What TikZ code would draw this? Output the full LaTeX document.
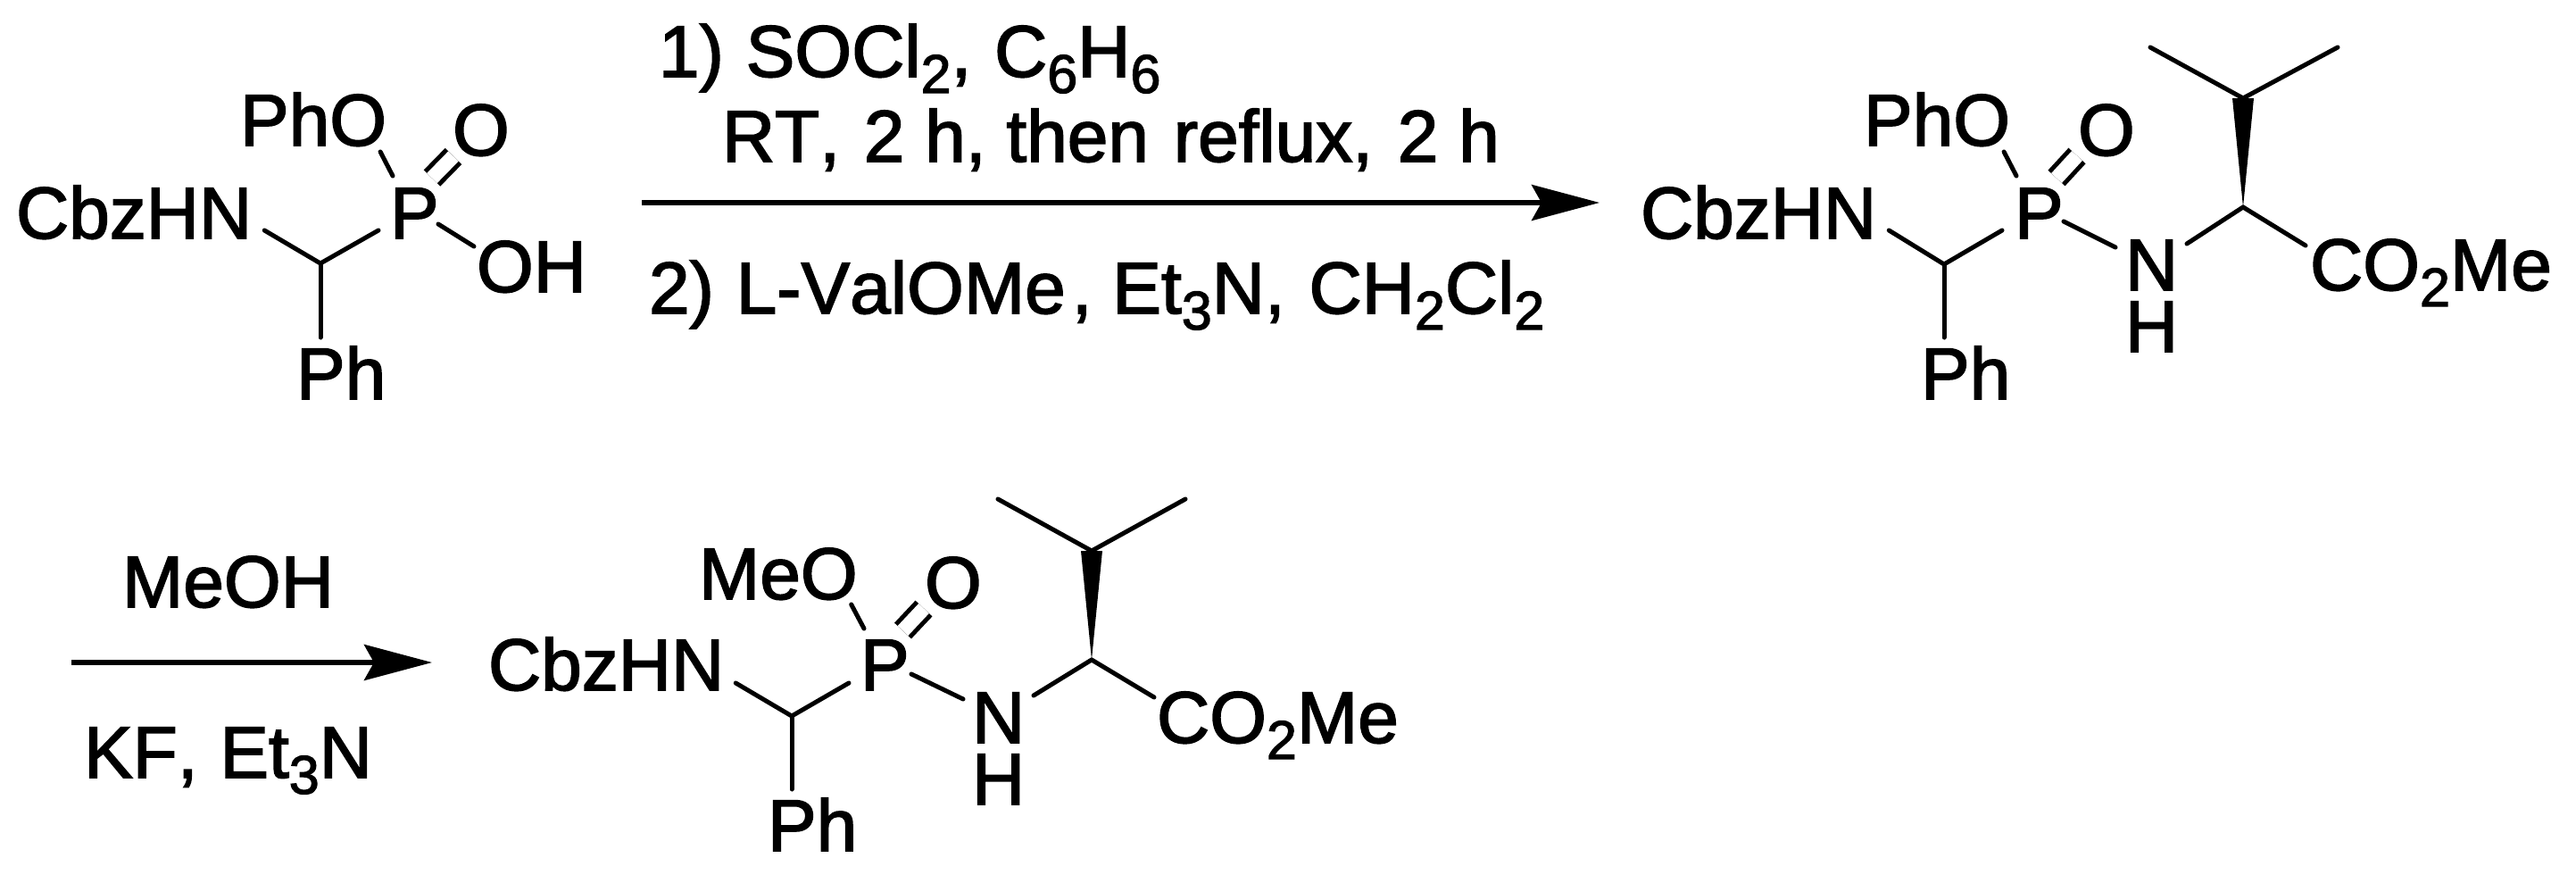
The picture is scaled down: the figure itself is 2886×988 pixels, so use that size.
\documentclass[tikz,border=0pt]{standalone}
\usepackage{fontspec}
\setmainfont[Kerning=Off,FakeBold=2]{Liberation Sans}
\usetikzlibrary{calc,arrows.meta}
\newcommand{\idx}[1]{\raisebox{-18pt}{\fontsize{61}{61}\selectfont #1}}
\begin{document}
\begin{tikzpicture}[x=1pt,y=-1pt,
  atom/.style={anchor=base west, inner sep=0pt, outer sep=0pt, font=\fontsize{82}{90}\selectfont},
  bond/.style={line width=5pt, line cap=round},
  dbond/.style={line width=5pt, double, double distance=16pt},
  react/.style={line width=5.5pt, -{Stealth[length=76pt,width=40pt,inset=11pt]}}]
\useasboundingbox (0,0) rectangle (2886,988);
\node[atom] (cbzA) at (18,267){CbzHN};
\node[atom] (phoA) at (269,163){PhO};
\node[atom] (pA) at (437,267){P};
\node[atom] (oA) at (507,174){O};
\node[atom] (ohA) at (534,327){OH};
\node[atom] (phA) at (332,447){Ph};
\coordinate (cA) at (359,295);
\draw[bond] ($(cbzA.base east)+(14,-9)$) -- (cA);
\draw[bond] ($(pA.base west)+(-13,-9)$) -- (cA);
\draw[bond] ($(phA.base west)+(27,-69)$) -- (cA);
\draw[bond] ($(pA.base west)+(3,-70)$) -- ($(phoA.base east)+(-7,7)$);
\draw[dbond] ($(pA.base west)+(47,-67.5)$) -- ($(oA.base west)+(1,1)$);
\draw[bond] ($(pA.base west)+(54,-16)$) -- ($(ohA.base west)+(-3,-51)$);
\node[atom] (stepa) at (738,86){1)\kern2pt{} SOCl\idx{2},\kern3pt{} C\idx{6}H\idx{6}};
\node[atom] (stepb) at (809,181){RT,\kern4pt{} 2 h, then\kern5pt{} reflux,\kern5pt{} 2 h};
\node[atom] (stepc) at (727,351){2)\kern2pt{} L-ValOMe\kern7pt, Et\idx{3}N,\kern4pt{} CH\idx{2}Cl\idx{2}};
\coordinate (arAs) at (719,227);
\coordinate (arAe) at (1792,227);
\draw[react] (arAs) -- (arAe);
\node[atom] (cbzB) at (1838,267){CbzHN};
\node[atom] (phoB) at (2088,163){PhO};
\node[atom] (pB) at (2257,267){P};
\node[atom] (oB) at (2328,174){O};
\node[atom] (nB) at (2381,325){N};
\node[atom] (hB) at (2381,394){H};
\node[atom] (coB) at (2588,325){CO\idx{2}Me};
\node[atom] (phB) at (2152,447){Ph};
\coordinate (cB) at (2178,296);
\coordinate (dB) at (2513,232);
\coordinate (eB) at (2513,110);
\coordinate (fB) at (2409,53);
\coordinate (gB) at (2619,53);
\draw[bond] ($(cbzB.base east)+(14,-9)$) -- (cB);
\draw[bond] ($(pB.base west)+(-14,-9)$) -- (cB);
\draw[bond] ($(phB.base west)+(26,-69)$) -- (cB);
\draw[bond] ($(pB.base west)+(2,-70)$) -- ($(phoB.base east)+(-7,7)$);
\draw[dbond] ($(pB.base west)+(47,-67.5)$) -- ($(oB.base west)+(-1,.5)$);
\draw[bond] ($(pB.base west)+(55,-19)$) -- ($(nB.base west)+(-11,-48)$);
\draw[bond] ($(nB.base west)+(69,-52)$) -- (dB);
\draw[bond] ($(coB.base west)+(-5,-50)$) -- (dB);
\fill (dB) -- ([xshift=-12pt]eB) -- ([xshift=12pt]eB) -- cycle;
\draw[bond] (eB) -- (fB);
\draw[bond] (eB) -- (gB);
\node[atom] (stepd) at (137,680){MeOH};
\node[atom] (stepe) at (94,871){KF,\kern2pt{} Et\idx{3}N};
\coordinate (arBs) at (80,742);
\coordinate (arBe) at (484,742);
\draw[react] (arBs) -- (arBe);
\node[atom] (cbzC) at (547,773){CbzHN};
\node[atom] (meoC) at (783,671){MeO};
\node[atom] (pC) at (964,773){P};
\node[atom] (oC) at (1036,681){O};
\node[atom] (nC) at (1089,832){N};
\node[atom] (hC) at (1089,901){H};
\node[atom] (coC) at (1296,832){CO\idx{2}Me};
\node[atom] (phC) at (860,953){Ph};
\coordinate (cC) at (887,802);
\coordinate (dC) at (1223,739);
\coordinate (eC) at (1223,617);
\coordinate (fC) at (1118,559);
\coordinate (gC) at (1328,559);
\draw[bond] ($(cbzC.base east)+(13,-8)$) -- (cC);
\draw[bond] ($(pC.base west)+(-13,-8)$) -- (cC);
\draw[bond] ($(phC.base west)+(27,-69)$) -- (cC);
\draw[bond] ($(pC.base west)+(4,-69)$) -- ($(meoC.base east)+(-7,6)$);
\draw[dbond] ($(pC.base west)+(47.5,-66.5)$) -- ($(oC.base west)+(-1,.5)$);
\draw[bond] ($(pC.base west)+(57,-18)$) -- ($(nC.base west)+(-10,-49)$);
\draw[bond] ($(nC.base west)+(69,-53)$) -- (dC);
\draw[bond] ($(coC.base west)+(-3,-51)$) -- (dC);
\fill (dC) -- ([xshift=-12pt]eC) -- ([xshift=12pt]eC) -- cycle;
\draw[bond] (eC) -- (fC);
\draw[bond] (eC) -- (gC);
\end{tikzpicture}
\end{document}
